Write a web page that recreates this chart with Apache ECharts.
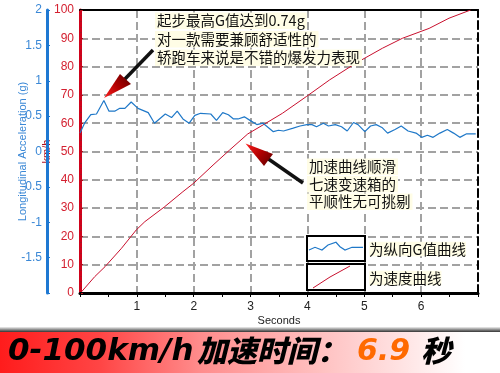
<!DOCTYPE html>
<html>
<head>
<meta charset="utf-8">
<script src="https://cdn.jsdelivr.net/npm/echarts@6/dist/echarts.min.js"></script>
<style>
html,body{margin:0;padding:0;background:#fff;}
#chart{width:500px;height:373px;}
</style>
</head>
<body>
<div id="chart"></div>
<script>
// Longitudinal acceleration (g) vs time (s)
const accelTime = [0.0,0.08,0.19,0.29,0.42,0.51,0.61,0.70,0.79,0.90,1.02,1.20,1.31,1.50,1.61,1.71,1.81,1.92,2.02,2.12,2.30,2.40,2.51,2.61,2.70,2.78,2.89,2.99,3.11,3.22,3.40,3.49,3.58,3.75,3.87,3.99,4.08,4.16,4.28,4.37,4.49,4.60,4.70,4.81,4.89,5.01,5.11,5.21,5.31,5.41,5.54,5.65,5.77,5.91,6.01,6.11,6.21,6.33,6.46,6.57,6.68,6.80,6.96];
const accelG = [0.26,0.40,0.52,0.53,0.72,0.57,0.57,0.61,0.61,0.70,0.61,0.55,0.40,0.53,0.48,0.57,0.46,0.40,0.51,0.54,0.53,0.44,0.55,0.52,0.46,0.46,0.49,0.44,0.38,0.40,0.28,0.30,0.29,0.33,0.36,0.38,0.38,0.35,0.40,0.36,0.38,0.35,0.29,0.41,0.38,0.28,0.36,0.38,0.34,0.26,0.31,0.36,0.29,0.26,0.20,0.23,0.20,0.26,0.31,0.26,0.20,0.25,0.25];
// Speed (km/h) vs time (s)
const speedTime = [0.03,0.26,0.44,0.73,0.99,1.14,1.49,1.81,2.00,2.34,2.63,2.95,3.27,3.56,3.98,4.39,4.85,5.32,5.67,6.14,6.49,6.87];
const speedKmh = [0.5,5.8,9.3,15.8,22.3,25.2,30.5,35.8,38.8,45.2,50.5,56.2,60.0,63.5,69.4,75.3,81.2,86.5,90.0,93.5,97.1,100.0];
// Texts
const note1 = ['起步最高G值达到0.74g','对一款需要兼顾舒适性的','轿跑车来说是不错的爆发力表现'];
const note2 = ['加速曲线顺滑','七速变速箱的','平顺性无可挑剔'];
const legendTexts = ['为纵向G值曲线','为速度曲线'];
const bannerTexts = ['0-100km/h','加速时间：','6.9','秒'];

const chart = echarts.init(document.getElementById('chart'));
const cjk = '"Noto Sans CJK SC", sans-serif';
const grad = (x1,y1,x2,y2,stops)=> new echarts.graphic.LinearGradient(x1,y1,x2,y2,stops.map(s=>({offset:s[0],color:s[1]})));
const gridLine = {show:true,lineStyle:{color:'#a2a2a2',width:2,type:'dashed'}};

const noteLines = (lines, x, y0, step) => lines.map((t,i)=>({
  type:'text',z:102,x:x,y:y0+i*step,
  style:{text:t,font:'14.5px '+cjk,fill:'#111',verticalAlign:'middle',backgroundColor:'#fffde6',padding:[1,2]}
}));

const option = {
  animation:false,
  backgroundColor:'#fff',
  grid:{left:80,right:22,top:10,bottom:80,containLabel:false,outerBoundsMode:'none'},
  xAxis:[{
    type:'value',min:0,max:7,interval:1,position:'bottom',
    axisLine:{show:true,onZero:false,lineStyle:{color:'#000',width:3}},
    axisTick:{show:true,length:4,lineStyle:{color:'#000'}},
    minorTick:{show:true,splitNumber:2,length:4,lineStyle:{color:'#000'}},
    axisLabel:{color:'#222',fontSize:12,margin:8,fontFamily:'Liberation Sans',formatter:v=>(v>0&&v<7)?String(v):''},
    splitLine:gridLine,
    name:'Seconds',nameLocation:'middle',nameGap:22,nameMoveOverlap:false,
    nameTextStyle:{color:'#222',fontSize:11,fontFamily:'Liberation Sans'}
  },{
    type:'value',min:0,max:7,position:'top',
    axisLine:{show:true,onZero:false,lineStyle:{color:'#000',width:2}},
    axisTick:{show:false},axisLabel:{show:false},splitLine:{show:false}
  }],
  yAxis:[{
    type:'value',min:0,max:100,interval:10,position:'left',
    axisLine:{show:true,onZero:false,lineStyle:{color:'#d0021b',width:3}},
    axisTick:{show:true,inside:true,length:3,lineStyle:{color:'#b01020'}},
    minorTick:{show:true,splitNumber:5,length:2,lineStyle:{color:'#b01020'}},
    axisLabel:{color:'#d42030',fontSize:12,margin:6,fontFamily:'Liberation Sans'},
    splitLine:gridLine,
    name:'km/h',nameLocation:'middle',nameGap:28,nameMoveOverlap:false,
    nameTextStyle:{color:'#b01020',fontSize:11,fontFamily:'Liberation Sans'}
  },{
    type:'value',min:-2,max:2,interval:0.5,position:'left',offset:33,
    axisLine:{show:true,onZero:false,lineStyle:{color:'#1e78d2',width:3}},
    axisTick:{show:true,inside:true,length:3,lineStyle:{color:'#1e78d2'}},
    minorTick:{show:true,splitNumber:5,length:2,lineStyle:{color:'#1e78d2'}},
    axisLabel:{color:'#3b88d6',fontSize:12,margin:5,fontFamily:'Liberation Sans',formatter:v=>v===-2?'':String(v)},
    splitLine:{show:false},
    name:'Longitudinal Acceleration (g)',nameLocation:'middle',nameGap:19,nameMoveOverlap:false,
    nameTextStyle:{color:'#3b88d6',fontSize:11,fontFamily:'Liberation Sans'}
  },{
    type:'value',min:0,max:100,position:'right',
    axisLine:{show:true,onZero:false,lineStyle:{color:'#000',width:2,type:'dashed'}},
    axisTick:{show:false},axisLabel:{show:false},splitLine:{show:false}
  }],
  series:[{
    type:'line',xAxisIndex:0,yAxisIndex:0,
    data:speedTime.map((t,i)=>[t,speedKmh[i]]),
    showSymbol:false,lineStyle:{color:'#c8102e',width:1},itemStyle:{color:'#c8102e'},z:3
  },{
    type:'line',xAxisIndex:0,yAxisIndex:1,
    data:accelTime.map((t,i)=>[t,accelG[i]]),
    showSymbol:false,lineStyle:{color:'#1f78c8',width:1.2},itemStyle:{color:'#1f78c8'},z:4
  }],
  graphic:[
    {type:'line',z:100,shape:{x1:153,y1:50,x2:124,y2:80},style:{stroke:'#111',lineWidth:3.5}},
    {type:'polygon',z:101,shape:{points:[[104,98],[120,74],[131,84]]},
      style:{fill:grad(1,0,0,1,[[0,'#5a0000'],[0.5,'#b00000'],[1,'#ff2020']])}},
    ...noteLines(note1,155,20.7,18.5),
    {type:'line',z:100,shape:{x1:303,y1:183,x2:267,y2:158},style:{stroke:'#111',lineWidth:3.5}},
    {type:'polygon',z:101,shape:{points:[[245.5,143.5],[273,154],[264,166]]},
      style:{fill:grad(1,1,0,0,[[0,'#5a0000'],[0.5,'#b00000'],[1,'#ff2020']])}},
    ...noteLines(note2,307,166.7,17.5),
    {type:'rect',z:100,shape:{x:307,y:236,width:58,height:25},style:{fill:'#fff',stroke:'#000',lineWidth:2}},
    {type:'rect',z:100,shape:{x:307,y:264,width:58,height:26},style:{fill:'#fff',stroke:'#000',lineWidth:2}},
    {type:'polyline',z:101,shape:{points:[[309,250],[315,247.3],[322,250],[328,245],[336,242.3],[340,246.7],[345,250],[352,247.3],[363,247.3]]},style:{stroke:'#1f78c8',lineWidth:1.2,fill:null}},
    {type:'polyline',z:101,shape:{points:[[313,288],[330,277],[350,266]]},style:{stroke:'#c8102e',lineWidth:1,fill:null}},
    {type:'text',z:102,x:369,y:249,style:{text:legendTexts[0],font:'14.5px '+cjk,fill:'#111',verticalAlign:'middle',backgroundColor:'#fffde6'}},
    {type:'text',z:102,x:369,y:278,style:{text:legendTexts[1],font:'14.5px '+cjk,fill:'#111',verticalAlign:'middle',backgroundColor:'#fffde6'}},
    {type:'rect',z:100,shape:{x:0,y:327,width:500,height:5},style:{fill:grad(0,0,0,1,[[0,'#f0f0f0'],[0.5,'#909090'],[1,'#333333']])}},
    {type:'rect',z:100,shape:{x:0,y:332,width:500,height:41},style:{fill:grad(0,0,1,0,[[0,'#ff1c1c'],[0.2,'#ff4545'],[0.4,'#ff8c8c'],[0.6,'#ffb8b8'],[0.8,'#ffe2e2'],[0.93,'#ffffff'],[1,'#ffffff']])}},
    {type:'text',z:102,x:8,y:352,style:{text:bannerTexts[0],font:'italic bold 31px "DejaVu Sans"',fill:'#000',verticalAlign:'middle'}},
    {type:'text',z:102,x:197,y:351,style:{text:bannerTexts[1],font:'italic 900 30px '+cjk,fill:'#000',verticalAlign:'middle'}},
    {type:'text',z:102,x:357,y:352,style:{text:bannerTexts[2],font:'italic bold 30px "DejaVu Sans"',fill:'#ff6a00',verticalAlign:'middle'}},
    {type:'text',z:102,x:421,y:351,style:{text:bannerTexts[3],font:'italic 900 30px '+cjk,fill:'#000',verticalAlign:'middle'}}
  ]
};
chart.setOption(option);
</script>
</body>
</html>
